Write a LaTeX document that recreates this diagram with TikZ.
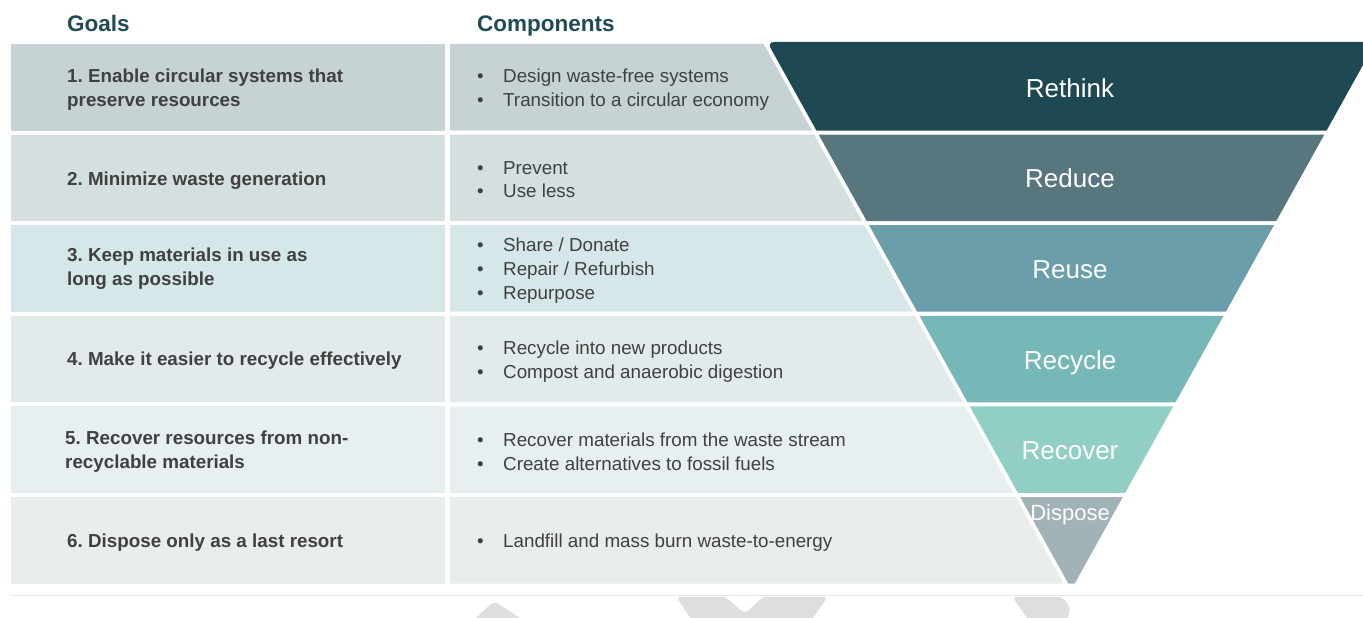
\documentclass[tikz,border=0pt]{standalone}
\usepackage{fontspec}
\setmainfont{Liberation Sans}
\frenchspacing

\definecolor{headcol}{HTML}{1F4B55}
\definecolor{textcol}{HTML}{404040}
\definecolor{row1}{HTML}{C6D2D4}
\definecolor{row2}{HTML}{D6DFE0}
\definecolor{row3}{HTML}{D6E7EA}
\definecolor{row4}{HTML}{E2EAEC}
\definecolor{row5}{HTML}{E7EFF1}
\definecolor{row6}{HTML}{E8EDEE}
\definecolor{rethink}{HTML}{1E4852}
\definecolor{reduce}{HTML}{58767D}
\definecolor{reuse}{HTML}{6A9EAB}
\definecolor{recycle}{HTML}{75B8B7}
\definecolor{recover}{HTML}{91CEC3}
\definecolor{dispose}{HTML}{A2B3B7}
\definecolor{wmarkcol}{HTML}{DEDEDE}
\definecolor{linecol}{HTML}{E6E6E6}

\newcommand{\bitem}[1]{\makebox[26pt][l]{\textbullet}#1}

\begin{document}
\begin{tikzpicture}[x=1pt,y=-1pt,
  head/.style={anchor=base west,inner sep=0pt,text=headcol,font=\fontsize{22.5}{27}\selectfont\bfseries},
  goal/.style={anchor=west,inner sep=0pt,align=left,text=textcol,font=\fontsize{18.8}{24}\selectfont\bfseries},
  comp/.style={anchor=west,inner sep=0pt,align=left,text=textcol,font=\fontsize{18.8}{23.7}\selectfont},
  level/.style={anchor=base,inner sep=0pt,text=white,font=\fontsize{26}{30}\selectfont},
  wmark/.style={fill=wmarkcol,rounded corners=5pt}]
\useasboundingbox (0,0) rectangle (1363,618);
\clip (0,0) rectangle (1363,618);

% Headers
\node[head] (goals) at (67,32) {Goals};
\node[head] (comps) at (477,32) {Components};

% Rows and funnel bands
\foreach \i/\rowc/\bandc/\rc in {1/row1/rethink/7,2/row2/reduce/0.01,3/row3/reuse/0.01,
    4/row4/recycle/0.01,5/row5/recover/0.01,6/row6/dispose/0.01}{
  \pgfmathsetmacro\ya{44+90.6*(\i-1)}
  \pgfmathsetmacro\yb{\ya+86.5}
  \pgfmathsetmacro\yt{\ya-2*(\i==1)}
  \pgfmathsetmacro\la{1065.7-0.556*(583-\ya)}
  \pgfmathsetmacro\lt{1065.7-0.556*(583-\yt)}
  \pgfmathsetmacro\lb{1065.7-0.556*(583-\yb)}
  \pgfmathsetmacro\rt{1075+0.556*(583-\yt)}
  \pgfmathsetmacro\rb{1075+0.556*(583-\yb)}
  \fill[\rowc] (11,\ya) rectangle (445,\yb);
  \fill[\rowc] (450,\ya) -- (\la-2.3,\ya) -- (\lb-2.3,\yb) -- (450,\yb) -- cycle;
  \fill[\bandc] (\lb+2.3,\yb) [rounded corners=\rc pt] -- (\lt+2.3,\yt)
    [sharp corners] -- (\rt,\yt) -- (\rb,\yb) -- cycle;
}

% Goals
\node[goal] (g1) at (67,89.5) {1. Enable circular systems that\\preserve resources};
\node[goal] (g2) at (67,180.5) {2. Minimize waste generation};
\node[goal] (g3) at (67,268.5) {3. Keep materials in use as\\long as possible};
\node[goal] (g4) at (67,360.5) {4. Make it easier to recycle effectively};
\node[goal] (g5) at (65,451.5) {5. Recover resources from non-\\recyclable materials};
\node[goal] (g6) at (67,542.5) {6. Dispose only as a last resort};

% Components
\node[comp] (c1) at (477,89.5) {\bitem{Design waste-free systems}\\\bitem{Transition to a circular economy}};
\node[comp] (c2) at (477,179.5) {\bitem{Prevent}\\\bitem{Use less}};
\node[comp] (c3) at (477,270.5) {\bitem{Share / Donate}\\\bitem{Repair / Refurbish}\\\bitem{Repurpose}};
\node[comp] (c4) at (477,361.5) {\bitem{Recycle into new products}\\\bitem{Compost and anaerobic digestion}};
\node[comp] (c5) at (477,451.5) {\bitem{Recover materials from the waste stream}\\\bitem{Create alternatives to fossil fuels}};
\node[comp] (c6) at (477,542.5) {\bitem{Landfill and mass burn waste-to-energy}};

% Funnel labels
\node[level] (l1) at (1070,97.5) {Rethink};
\node[level] (l2) at (1070,187.5) {Reduce};
\node[level] (l3) at (1070,278.5) {Reuse};
\node[level] (l4) at (1070,369.5) {Recycle};
\node[level] (l5) at (1070,459.5) {Recover};
\node[level,font=\fontsize{22}{26}\selectfont] (l6) at (1070,520) {Dispose};

% Bottom rule and faded shapes
\draw[linecol,line width=1pt] (11,595) -- (1363,595);
\fill[wmark] (472,622) -- (494,601) -- (526,622) -- cycle;
\fill[wmark] (676,596.5) -- (725,596.5) -- (745,614) -- (763,596.5) -- (828,596.5) -- (810,622) -- (693,622) -- cycle;
\fill[wmark] (1012,596.5) -- (1062,596.5) -- (1071,609) -- (1066,622) -- (1030,622) -- cycle;
\end{tikzpicture}
\end{document}
